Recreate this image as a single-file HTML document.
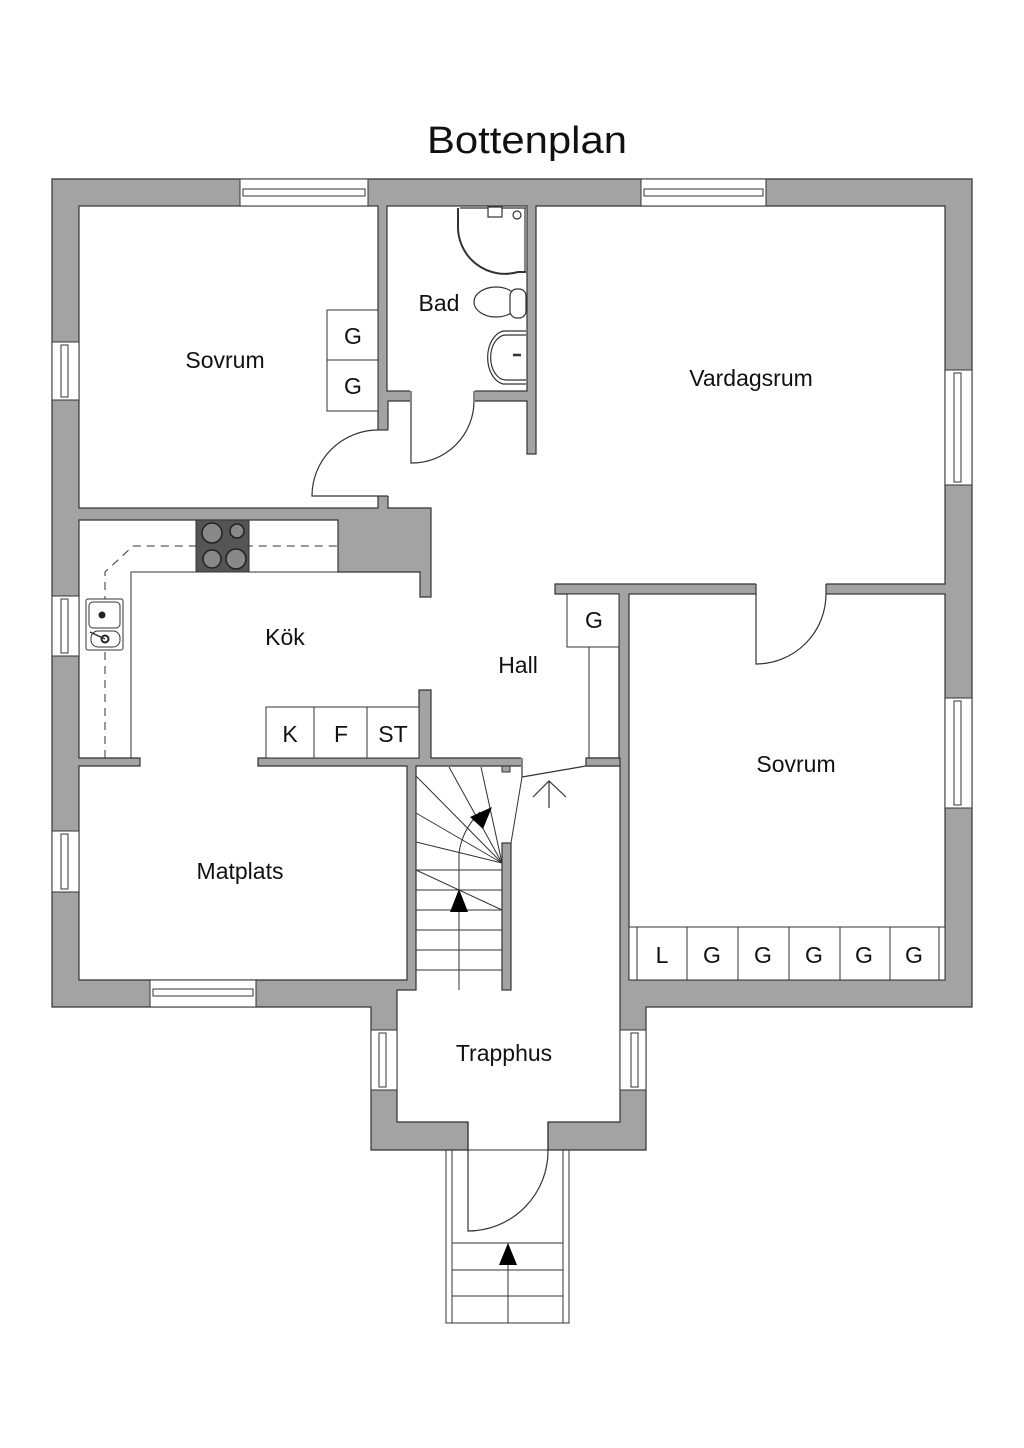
<!DOCTYPE html>
<html><head><meta charset="utf-8"><style>
html,body{margin:0;padding:0;background:#fff;}
svg{display:block;}
text{font-family:"Liberation Sans",sans-serif;fill:#111;}
</style></head><body>
<svg width="1024" height="1448" viewBox="0 0 1024 1448" xmlns="http://www.w3.org/2000/svg">
<rect width="1024" height="1448" fill="#fff"/>
<text x="527" y="153" font-size="38" text-anchor="middle" textLength="200" lengthAdjust="spacingAndGlyphs">Bottenplan</text>

<polygon points="52,179 972,179 972,1007 646,1007 646,1150 371,1150 371,1007 52,1007" fill="#a3a3a3" stroke="#333" stroke-width="1.2"/>

<g fill="#fff" stroke="#333" stroke-width="1.2">
<rect x="79" y="206" width="299" height="302"/>
<rect x="387" y="206" width="140" height="185"/>
<rect x="629" y="594" width="316" height="386"/>
<polygon points="536,206 945,206 945,584 555,584 555,594 619,594 619,758 431,758 431,690 419,690 419,758 258,758 258,766 407,766 407,980 79,980 79,766 140,766 140,758 79,758 79,520 338,520 338,572 420,572 420,597 431,597 431,508 388,508 388,401 527,401 527,454 536,454"/>
<polygon points="416,766 620,766 620,1122 548,1122 548,1150 468,1150 468,1122 397,1122 397,990 416,990"/>
</g>
<g fill="#fff">
<rect x="376" y="430" width="14" height="66"/>
<rect x="410" y="389" width="65" height="14"/>
<rect x="756" y="582" width="70" height="14"/>
<rect x="521" y="757" width="66" height="10"/>
<rect x="469" y="1121" width="78" height="30"/>
</g>
<g fill="#a3a3a3" stroke="#333" stroke-width="1.2">
<rect x="502" y="843" width="9" height="147"/>
<rect x="586" y="758" width="34" height="8"/>
</g>
<g stroke="#333" stroke-width="1.2" fill="none">
<line x1="378" y1="430" x2="388" y2="430"/><line x1="378" y1="496" x2="388" y2="496"/>
<line x1="411" y1="391" x2="411" y2="401"/><line x1="474" y1="391" x2="474" y2="401"/>
<line x1="756" y1="584" x2="756" y2="594"/><line x1="826" y1="584" x2="826" y2="594"/>
<line x1="522" y1="758" x2="522" y2="766"/>
<line x1="468" y1="1122" x2="468" y2="1150"/><line x1="548" y1="1122" x2="548" y2="1150"/>
</g>

<g fill="#fff" stroke="#333" stroke-width="1">
<rect x="240" y="179" width="128" height="27"/><rect x="243" y="189" width="122" height="7"/>
<rect x="641" y="179" width="125" height="27"/><rect x="644" y="189" width="119" height="7"/>
<rect x="52" y="342" width="27" height="58"/><rect x="61" y="345" width="7" height="52"/>
<rect x="52" y="596" width="27" height="60"/><rect x="61" y="599" width="7" height="54"/>
<rect x="52" y="831" width="27" height="61"/><rect x="61" y="834" width="7" height="55"/>
<rect x="945" y="370" width="27" height="115"/><rect x="954" y="373" width="7" height="109"/>
<rect x="945" y="698" width="27" height="110"/><rect x="954" y="701" width="7" height="104"/>
<rect x="150" y="980" width="106" height="27"/><rect x="153" y="989" width="100" height="7"/>
<rect x="371" y="1030" width="26" height="60"/><rect x="379" y="1033" width="7" height="54"/>
<rect x="620" y="1030" width="26" height="60"/><rect x="631" y="1033" width="7" height="54"/>
</g>

<g fill="none" stroke="#333" stroke-width="1.2">
<path d="M378,430 A66,66 0 0 0 312,496 L378,496"/>
<path d="M411,401 L411,463 A62,62 0 0 0 474,401"/>
<path d="M756,594 L756,664 A70,70 0 0 0 826,594"/>
<path d="M468,1150 L468,1231 A80,80 0 0 0 548,1150"/>
<line x1="522" y1="777" x2="586" y2="766"/>
<line x1="522" y1="766" x2="522" y2="777"/>
<line x1="549" y1="808" x2="549" y2="781"/>
<polyline points="533,797 549,781 566,797"/>
</g>

<g fill="#fff" stroke="#333" stroke-width="1">
<rect x="327" y="310" width="51" height="50"/><rect x="327" y="360" width="51" height="51"/>
<rect x="567" y="594" width="52" height="53"/>
<line x1="589" y1="647" x2="589" y2="758"/>
<rect x="266" y="707" width="48" height="51"/><rect x="314" y="707" width="53" height="51"/><rect x="367" y="707" width="52" height="51"/>
<rect x="629" y="927" width="316" height="53"/>
<line x1="637" y1="927" x2="637" y2="980"/><line x1="687" y1="927" x2="687" y2="980"/>
<line x1="738" y1="927" x2="738" y2="980"/><line x1="789" y1="927" x2="789" y2="980"/>
<line x1="840" y1="927" x2="840" y2="980"/><line x1="890" y1="927" x2="890" y2="980"/>
<line x1="939" y1="927" x2="939" y2="980"/>
</g>

<g fill="none" stroke="#333" stroke-width="1">
<polyline points="131,758 131,572 338,572"/>
<polyline points="105,758 105,572 133,546 338,546" stroke-dasharray="8,6"/>
</g>
<rect x="196" y="520" width="53" height="52" fill="#555" stroke="#333"/>
<g fill="#888" stroke="#222" stroke-width="1.5">
<circle cx="212" cy="533" r="10"/><circle cx="237" cy="531" r="7"/>
<circle cx="212" cy="559" r="9"/><circle cx="236" cy="559" r="10"/>
</g>
<g fill="#fff" stroke="#333" stroke-width="1">
<rect x="86" y="599" width="37" height="51" rx="2"/>
<rect x="89" y="602" width="31" height="26" rx="4"/>
<rect x="91" y="631" width="29" height="16" rx="7"/>
</g>
<circle cx="102" cy="615" r="3.5" fill="#222"/><circle cx="105" cy="639" r="3.5" fill="none" stroke="#222" stroke-width="2"/>
<line x1="90" y1="632" x2="105" y2="639" stroke="#333" stroke-width="1.5"/>

<g fill="none" stroke="#333" stroke-width="1.2">
<path d="M458,208 L458,225 A47,47 0 0 0 518,272 L526,272" stroke-width="2"/>
<line x1="460" y1="208" x2="526" y2="208"/>
<line x1="525" y1="208" x2="525" y2="272"/>
<circle cx="517" cy="215" r="4"/>
<rect x="488" y="207" width="14" height="10" fill="#fff"/>
<ellipse cx="496" cy="302" rx="22" ry="15" fill="#fff"/>
<rect x="510" y="289" width="16" height="29" rx="7" fill="#fff"/>
<path d="M526,331 L503,331 A19,27 0 0 0 503,384 L526,384" fill="#fff"/>
<path d="M526,335 L506,335 A15,22 0 0 0 506,380 L526,380"/>
<line x1="513" y1="355" x2="521" y2="355" stroke-width="2.5"/>
</g>

<g fill="none" stroke="#333" stroke-width="1">
<line x1="416" y1="870" x2="502" y2="870"/>
<line x1="416" y1="890" x2="502" y2="890"/>
<line x1="416" y1="910" x2="502" y2="910"/>
<line x1="416" y1="930" x2="502" y2="930"/>
<line x1="416" y1="950" x2="502" y2="950"/>
<line x1="416" y1="970" x2="502" y2="970"/>
<line x1="416" y1="870" x2="502" y2="910"/>
<line x1="502" y1="863" x2="416" y2="842"/>
<line x1="502" y1="863" x2="416" y2="813"/>
<line x1="502" y1="863" x2="416" y2="776"/>
<line x1="502" y1="863" x2="449" y2="767"/>
<line x1="502" y1="863" x2="481" y2="767"/>
<line x1="511" y1="843" x2="522" y2="777"/>
<path d="M459,990 L459,853 Q462,830 480,812"/>
<rect x="502" y="766" width="8" height="6" fill="#a3a3a3"/>
</g>
<polygon points="459,889 450,912 468,912" fill="#000"/>
<polygon points="492,807 470,817 483,829" fill="#000"/>

<g fill="none" stroke="#333" stroke-width="1">
<rect x="446" y="1150" width="123" height="173"/>
<line x1="452" y1="1150" x2="452" y2="1323"/>
<line x1="563" y1="1150" x2="563" y2="1323"/>
<line x1="452" y1="1243" x2="563" y2="1243"/>
<line x1="452" y1="1270" x2="563" y2="1270"/>
<line x1="452" y1="1296" x2="563" y2="1296"/>
<line x1="508" y1="1243" x2="508" y2="1323"/>
</g>
<polygon points="508,1243 499,1265 517,1265" fill="#000"/>

<g font-size="23" text-anchor="middle">
<text x="225" y="368">Sovrum</text>
<text x="439" y="311">Bad</text>
<text x="751" y="386">Vardagsrum</text>
<text x="285" y="645">Kök</text>
<text x="518" y="673">Hall</text>
<text x="796" y="772">Sovrum</text>
<text x="240" y="879">Matplats</text>
<text x="504" y="1061">Trapphus</text>
<text x="353" y="344">G</text>
<text x="353" y="394">G</text>
<text x="594" y="628">G</text>
<text x="290" y="742">K</text>
<text x="341" y="742">F</text>
<text x="393" y="742">ST</text>
<text x="662" y="963">L</text>
<text x="712" y="963">G</text>
<text x="763" y="963">G</text>
<text x="814" y="963">G</text>
<text x="864" y="963">G</text>
<text x="914" y="963">G</text>
</g>
</svg>
</body></html>
